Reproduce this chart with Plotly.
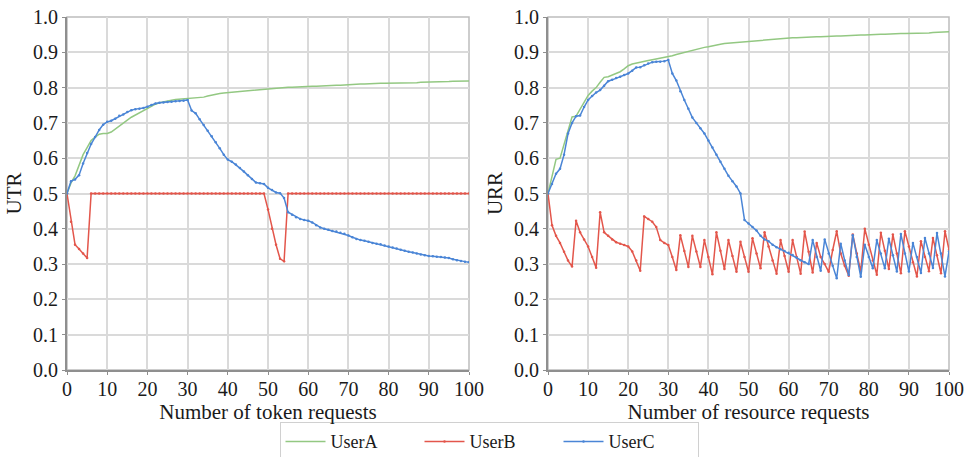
import plotly.graph_objects as go
from plotly.subplots import make_subplots

x_req = list(range(0, 101))

token_userA = [0.50, 0.53, 0.55, 0.58, 0.61, 0.63, 0.65, 0.66, 0.668, 0.67,
               0.67, 0.674, 0.683, 0.692, 0.70, 0.708, 0.716, 0.722, 0.728, 0.734,
               0.742, 0.748, 0.753, 0.757, 0.76, 0.762, 0.764, 0.766, 0.767, 0.768,
               0.769, 0.769, 0.77, 0.771, 0.773, 0.776, 0.779, 0.781, 0.783, 0.785,
               0.786, 0.788, 0.789, 0.791, 0.792, 0.793, 0.794, 0.795, 0.796, 0.797,
               0.798, 0.799, 0.799, 0.80, 0.80, 0.801, 0.801, 0.802, 0.802, 0.803,
               0.803, 0.804, 0.804, 0.805, 0.805, 0.806, 0.806, 0.807, 0.807, 0.808,
               0.809, 0.809, 0.81, 0.81, 0.81, 0.811, 0.811, 0.811, 0.812, 0.812,
               0.812, 0.813, 0.813, 0.813, 0.813, 0.814, 0.814, 0.814, 0.815, 0.815,
               0.815, 0.816, 0.816, 0.816, 0.817, 0.817, 0.818, 0.818, 0.818, 0.819,
               0.819]

token_userB = [0.50, 0.42, 0.355, 0.343, 0.33, 0.317, 0.50, 0.50, 0.50, 0.50,
               0.50, 0.50, 0.50, 0.50, 0.50, 0.50, 0.50, 0.50, 0.50, 0.50,
               0.50, 0.50, 0.50, 0.50, 0.50, 0.50, 0.50, 0.50, 0.50, 0.50,
               0.50, 0.50, 0.50, 0.50, 0.50, 0.50, 0.50, 0.50, 0.50, 0.50,
               0.50, 0.50, 0.50, 0.50, 0.50, 0.50, 0.50, 0.50, 0.50, 0.50,
               0.455, 0.40, 0.355, 0.315, 0.308, 0.50, 0.50, 0.50, 0.50, 0.50,
               0.50, 0.50, 0.50, 0.50, 0.50, 0.50, 0.50, 0.50, 0.50, 0.50,
               0.50, 0.50, 0.50, 0.50, 0.50, 0.50, 0.50, 0.50, 0.50, 0.50,
               0.50, 0.50, 0.50, 0.50, 0.50, 0.50, 0.50, 0.50, 0.50, 0.50,
               0.50, 0.50, 0.50, 0.50, 0.50, 0.50, 0.50, 0.50, 0.50, 0.50,
               0.50]

token_userC = [0.50, 0.535, 0.54, 0.552, 0.585, 0.615, 0.64, 0.66, 0.68, 0.695,
               0.703, 0.706, 0.712, 0.72, 0.724, 0.731, 0.736, 0.739, 0.74, 0.742,
               0.746, 0.751, 0.755, 0.757, 0.758, 0.759, 0.76, 0.761, 0.762, 0.763,
               0.765, 0.735, 0.727, 0.71, 0.694, 0.678, 0.662, 0.645, 0.628, 0.61,
               0.596, 0.59, 0.582, 0.572, 0.562, 0.552, 0.541, 0.531, 0.529, 0.527,
               0.516, 0.51, 0.503, 0.501, 0.487, 0.447, 0.44, 0.433, 0.428, 0.425,
               0.423, 0.418, 0.41, 0.404, 0.40, 0.397, 0.394, 0.392, 0.389, 0.386,
               0.381, 0.376, 0.371, 0.368, 0.366, 0.363, 0.36, 0.358, 0.356, 0.353,
               0.35, 0.347, 0.344, 0.341, 0.338, 0.335, 0.333, 0.33, 0.327, 0.325,
               0.323, 0.322, 0.321, 0.32, 0.319, 0.317, 0.314, 0.311, 0.309, 0.307,
               0.305]

res_userA = [0.50, 0.545, 0.597, 0.60, 0.64, 0.68, 0.717, 0.719, 0.74, 0.76,
             0.778, 0.79, 0.80, 0.815, 0.829, 0.831, 0.835, 0.84, 0.845, 0.853,
             0.862, 0.867, 0.87, 0.872, 0.875, 0.877, 0.879, 0.881, 0.883, 0.885,
             0.887, 0.89, 0.894, 0.897, 0.90, 0.904, 0.907, 0.91, 0.912, 0.914,
             0.916, 0.919, 0.921, 0.923, 0.925, 0.926, 0.927, 0.928, 0.929, 0.93,
             0.931, 0.932, 0.934, 0.935, 0.936, 0.937, 0.938, 0.938, 0.939, 0.939,
             0.94, 0.941, 0.941, 0.942, 0.943, 0.943, 0.944, 0.944, 0.944, 0.945,
             0.945, 0.946, 0.946, 0.946, 0.947, 0.947, 0.948, 0.948, 0.949, 0.949,
             0.95, 0.95, 0.95, 0.951, 0.951, 0.952, 0.952, 0.952, 0.953, 0.953,
             0.953, 0.954, 0.954, 0.955, 0.955, 0.955, 0.956, 0.956, 0.957, 0.957,
             0.958]

res_userB = [0.50, 0.41, 0.38, 0.36, 0.335, 0.31, 0.293, 0.423, 0.39, 0.37,
             0.35, 0.32, 0.29, 0.447, 0.39, 0.38, 0.37, 0.362, 0.358, 0.354,
             0.35, 0.336, 0.31, 0.281, 0.435, 0.428, 0.42, 0.405, 0.368, 0.36,
             0.354, 0.32, 0.283, 0.382, 0.337, 0.292, 0.38, 0.336, 0.292, 0.368,
             0.32, 0.271, 0.39, 0.338, 0.286, 0.368, 0.323, 0.278, 0.363, 0.32,
             0.278, 0.373, 0.33, 0.288, 0.39, 0.35, 0.31, 0.273, 0.368, 0.323,
             0.278, 0.368, 0.32, 0.273, 0.392, 0.335, 0.276, 0.36, 0.32, 0.30,
             0.278, 0.34, 0.393, 0.33, 0.295, 0.267, 0.384, 0.33, 0.279, 0.40,
             0.355, 0.31, 0.27, 0.389, 0.338, 0.286, 0.384, 0.33, 0.274, 0.393,
             0.35, 0.305, 0.265, 0.365, 0.32, 0.28, 0.374, 0.325, 0.274, 0.393,
             0.341]

res_userC = [0.50, 0.527, 0.556, 0.57, 0.61, 0.67, 0.70, 0.719, 0.721, 0.745,
             0.765, 0.776, 0.786, 0.793, 0.805, 0.818, 0.822, 0.827, 0.831, 0.836,
             0.84, 0.848, 0.857, 0.858, 0.863, 0.868, 0.872, 0.873, 0.873, 0.875,
             0.878, 0.84, 0.82, 0.79, 0.765, 0.74, 0.715, 0.70, 0.685, 0.67,
             0.65, 0.63, 0.61, 0.59, 0.57, 0.55, 0.535, 0.52, 0.50, 0.425,
             0.415, 0.405, 0.395, 0.38, 0.37, 0.365, 0.355, 0.348, 0.342, 0.337,
             0.332, 0.326, 0.318, 0.311, 0.305, 0.30, 0.368, 0.32, 0.281, 0.37,
             0.33, 0.295, 0.26, 0.358, 0.31, 0.269, 0.382, 0.32, 0.264, 0.355,
             0.32, 0.288, 0.368, 0.33, 0.288, 0.372, 0.325, 0.279, 0.385, 0.33,
             0.279, 0.36, 0.32, 0.275, 0.374, 0.33, 0.289, 0.388, 0.33, 0.265,
             0.336]

series_names = ["UserA", "UserB", "UserC"]
colors = {"UserA": "#93c882", "UserB": "#e3564b", "UserC": "#4a85d6"}

y_ticks = [0.0, 0.1, 0.2, 0.3, 0.4, 0.5, 0.6, 0.7, 0.8, 0.9, 1.0]
x_ticks = [0, 10, 20, 30, 40, 50, 60, 70, 80, 90, 100]
x_titles = ["Number of token requests", "Number of resource requests"]
y_titles = ["UTR", "URR"]

W, H = 967, 457
ML, MR, MT, MB = 67, 18, 17, 87
pw = W - ML - MR

fig = make_subplots(rows=1, cols=2, horizontal_spacing=0.09)

panel_data = [
    {"UserA": token_userA, "UserB": token_userB, "UserC": token_userC},
    {"UserA": res_userA, "UserB": res_userB, "UserC": res_userC},
]

for ci, pdict in enumerate(panel_data):
    for name in series_names:
        marker_mode = "lines" if name == "UserA" else "lines+markers"
        fig.add_trace(
            go.Scatter(
                x=x_req, y=pdict[name], name=name, mode=marker_mode,
                line=dict(color=colors[name], width=1.5),
                marker=dict(size=2.5, color=colors[name]),
                showlegend=(ci == 0),
            ),
            row=1, col=ci + 1,
        )

font_family = "Liberation Serif"
text_color = "#1a1a1a"
axis_color = "#8f8f8f"
grid_color = "#dadada"

left_dom = [0, (469 - ML) / pw]
right_dom = [(548 - ML) / pw, 1]

for i, dom in enumerate([left_dom, right_dom]):
    fig.update_xaxes(
        row=1, col=i + 1, domain=dom, range=[0, 100], tickvals=x_ticks,
        showgrid=True, gridcolor=grid_color, gridwidth=1.5,
        showline=True, linecolor=axis_color, linewidth=2,
        ticks="outside", ticklen=3, tickcolor=axis_color,
        ticklabelstandoff=-3,
        zeroline=False,
        title=dict(text=x_titles[i], standoff=0,
                   font=dict(family=font_family, size=21, color=text_color)),
        tickfont=dict(family=font_family, size=20, color=text_color),
    )
    fig.update_yaxes(
        row=1, col=i + 1, range=[0, 1.0], tickvals=y_ticks,
        ticktext=[f"{v:.1f}" for v in y_ticks],
        showgrid=True, gridcolor=grid_color, gridwidth=1.5,
        showline=True, linecolor=axis_color, linewidth=2,
        ticks="outside", ticklen=3, tickcolor=axis_color,
        zeroline=False,
        title=dict(text=y_titles[i], standoff=6,
                   font=dict(family=font_family, size=21, color=text_color)),
        tickfont=dict(family=font_family, size=20, color=text_color),
    )

# light frame on top/right edges
for xref, yref in [("x domain", "y domain"), ("x2 domain", "y2 domain")]:
    fig.add_shape(type="rect", xref=xref, yref=yref, x0=0, x1=1, y0=0, y1=1,
                  line=dict(color="#bdbdbd", width=1.5), layer="below")

fig.update_layout(
    width=W, height=H,
    margin=dict(l=ML, r=MR, t=MT, b=MB, autoexpand=False),
    paper_bgcolor="white", plot_bgcolor="white",
    font=dict(family=font_family, size=20, color=text_color),
    legend=dict(
        orientation="h", x=(489 - ML) / pw, xanchor="center",
        y=-0.148, yanchor="top",
        bordercolor="#d0d0d0", borderwidth=1,
        font=dict(family=font_family, size=18, color=text_color),
        itemwidth=40, entrywidth=84, entrywidthmode="pixels",
        tracegroupgap=0,
    ),
)

fig.write_html("out.html")
